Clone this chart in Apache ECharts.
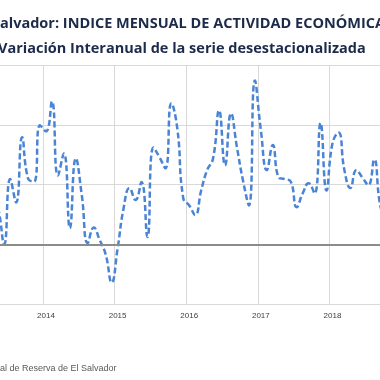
<!DOCTYPE html>
<html><head><meta charset="utf-8">
<script src="https://cdn.jsdelivr.net/npm/echarts@6/dist/echarts.min.js"></script>
<style>html,body{margin:0;padding:0;background:#fff}#c{width:380px;height:380px}</style>
</head><body><div id="c"></div>
<script>
const titleText = 'alvador: INDICE MENSUAL DE ACTIVIDAD ECONÓMICA';
const subtitleText = 'Variación Interanual de la serie desestacionalizada';
const sourceText = 'al de Reserva de El Salvador';

const months = [
  '2013-04','2013-05','2013-06','2013-07','2013-08','2013-09','2013-10','2013-11','2013-12',
  '2014-01','2014-02','2014-03','2014-04','2014-05','2014-06','2014-07','2014-08','2014-09','2014-10','2014-11','2014-12',
  '2015-01','2015-02','2015-03','2015-04','2015-05','2015-06','2015-07','2015-08','2015-09','2015-10','2015-11','2015-12',
  '2016-01','2016-02','2016-03','2016-04','2016-05','2016-06','2016-07','2016-08','2016-09','2016-10','2016-11','2016-12',
  '2017-01','2017-02','2017-03','2017-04','2017-05','2017-06','2017-07','2017-08','2017-09','2017-10','2017-11','2017-12',
  '2018-01','2018-02','2018-03','2018-04','2018-05','2018-06','2018-07','2018-08','2018-09','2018-10'
];
const variacion = [
  0.90, 0.60, 0.00, 1.09, 0.70, 1.79, 1.10, 1.05, 1.99,
  1.89, 2.39, 1.15, 1.52, 0.27, 1.44, 0.82, 0.02, 0.28, 0.07, -0.17, -0.64,
  -0.07, 0.60, 0.94, 0.74, 1.04, 0.12, 1.62, 1.46, 1.27, 2.36, 1.94, 0.77,
  0.65, 0.49, 0.90, 1.24, 1.44, 2.24, 1.32, 2.19, 1.62, 1.07, 0.65, 2.74,
  1.91, 1.24, 1.66, 1.12, 1.09, 1.05, 0.62, 0.85, 1.02, 0.85, 2.03, 0.90,
  1.69, 1.87, 1.24, 0.94, 1.24, 1.12, 0.99, 1.42, 0.65, 0.40
];
const yMin = -1, yMax = 3, yStep = 1;

const isJan = (i, v) => /-01$/.test(v);
const chart = echarts.init(document.getElementById('c'), null, {renderer: 'canvas'});
chart.setOption({
  animation: false,
  backgroundColor: '#ffffff',
  title: [
    {text: titleText, left: 0, top: 16, padding: 0, textStyle: {fontFamily: 'Open Sans', fontWeight: 'bold', fontSize: 14.5, color: '#1c2b4a'}},
    {text: subtitleText, left: -2, top: 41, padding: 0, textStyle: {fontFamily: 'Open Sans', fontWeight: 'bold', fontSize: 14.5, color: '#1c2b4a'}}
  ],
  graphic: [
    {type: 'text', left: 0, top: 364, style: {text: sourceText, font: '9px "Liberation Sans"', fill: '#595959'}}
  ],
  grid: {left: -10.72, width: 399.9, top: 65, height: 239, containLabel: false, outerBoundsMode: 'none'},
  xAxis: {
    type: 'category', data: months, boundaryGap: true,
    axisLine: {show: false}, axisTick: {show: false},
    axisLabel: {interval: isJan, formatter: v => v.slice(0, 4), margin: 8, fontFamily: 'Liberation Sans', fontSize: 8, color: '#404040'},
    splitLine: {show: true, interval: isJan, lineStyle: {color: '#d9d9d9', width: 1}}
  },
  yAxis: {
    type: 'value', min: yMin, max: yMax, interval: yStep,
    axisLine: {show: false}, axisTick: {show: false}, axisLabel: {show: false},
    splitLine: {lineStyle: {color: '#d9d9d9', width: 1}}
  },
  series: [{
    type: 'line', data: variacion, smooth: true, showSymbol: false,
    lineStyle: {color: '#4a84d4', width: 2.5, type: [6, 3]},
    markLine: {silent: true, symbol: 'none', label: {show: false},
      lineStyle: {color: '#8c8c8c', width: 2, type: 'solid'}, data: [{yAxis: 0}]}
  }]
});
</script></body></html>
